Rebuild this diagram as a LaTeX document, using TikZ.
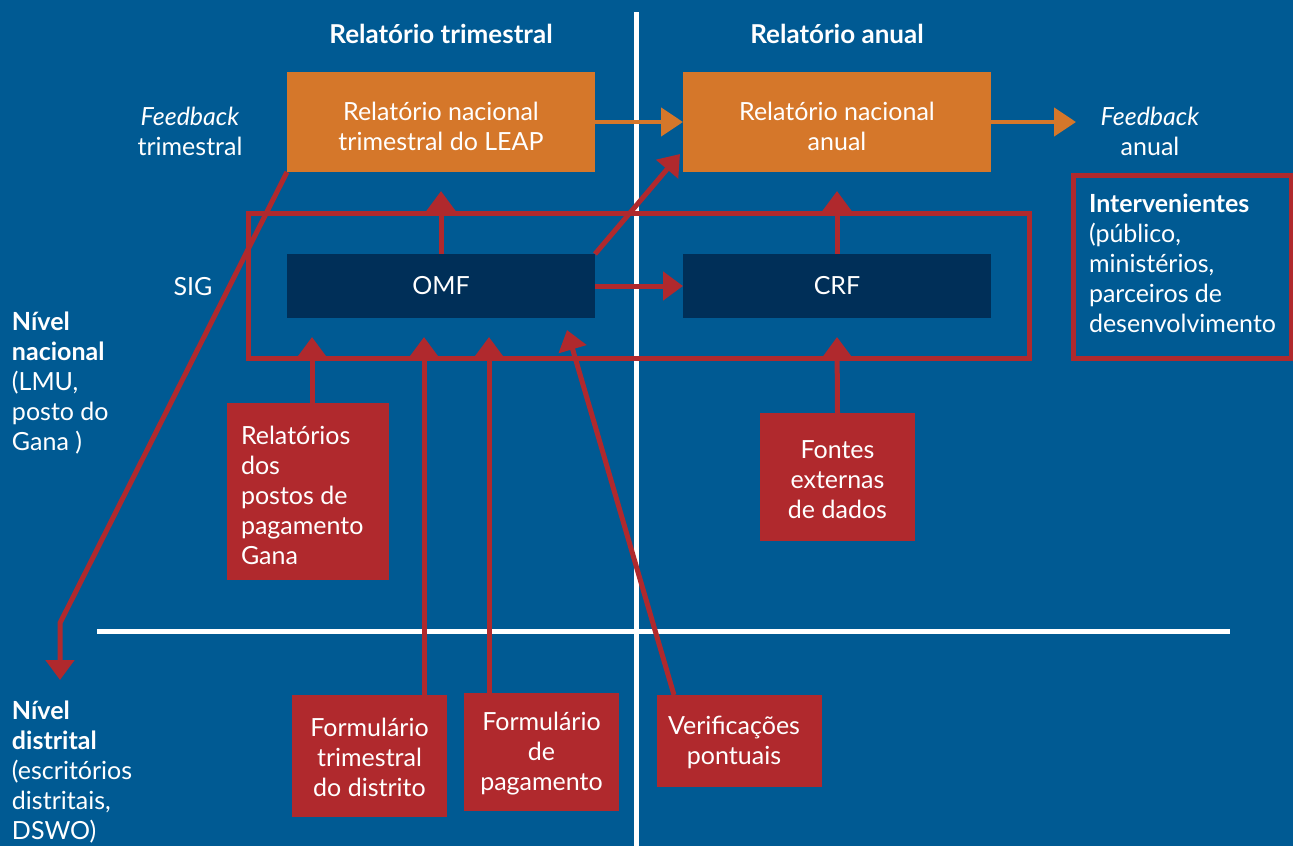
\documentclass[tikz,border=0pt]{standalone}
\usepackage{fontspec}
\setmainfont{Lato}
\usetikzlibrary{arrows.meta}
\definecolor{bg}{HTML}{005A93}
\definecolor{orangebox}{HTML}{D5772A}
\definecolor{navybox}{HTML}{002F58}
\definecolor{redbox}{HTML}{B0292D}
\tikzset{
  txt/.style={text=white, inner sep=0pt, outer sep=0pt},
  hdr/.style={txt, font=\fontsize{26}{30}\selectfont\bfseries},
  obox/.style={fill=orangebox, text=white, inner sep=0pt, outer sep=0pt, align=center},
  nbox/.style={fill=navybox, text=white, inner sep=0pt, outer sep=0pt, align=center},
  rbox/.style={fill=redbox, text=white, inner sep=0pt, outer sep=0pt},
  frame/.style={draw=redbox, line width=5pt, inner sep=0pt, outer sep=0pt},
  redarrow/.style={draw=redbox, line width=5pt, -{Triangle[width=28pt,length=20pt]}},
  orangearrow/.style={draw=orangebox, line width=4.5pt, -{Triangle[width=28pt,length=22pt]}},
  divider/.style={draw=white, line width=5pt}
}
\begin{document}
\begin{tikzpicture}[x=1pt, y=-1pt, font=\fontsize{25}{30}\selectfont]
\fill[bg] (0,0) rectangle (1293,846);
\useasboundingbox (0,0) rectangle (1293,846);

% dividers between the time frames and the levels
\coordinate (vtop) at (636,12);
\coordinate (vbot) at (636,846);
\coordinate (hl) at (97,631);
\coordinate (hr) at (1230,631);
\draw[divider] (vtop) -- (vbot);
\draw[divider] (hl) -- (hr);

% column headers
\node[hdr] (h1) at (441,34) {Relatório trimestral};
\node[hdr] (h2) at (837,34) {Relatório anual};

% reports
\node[obox, minimum width=308pt, minimum height=100pt] (rtri) at (441,122) {};
\node[txt, align=center] (rtritext) at (441,126) {Relatório nacional\\trimestral do LEAP};
\node[obox, minimum width=308pt, minimum height=100pt] (rann) at (837,122) {};
\node[txt, align=center] (ranntext) at (837,126) {Relatório nacional\\anual};

% feedback labels
\node[txt, align=center] (fbt) at (190,131) {\textit{Feedback}\\trimestral};
\node[txt, align=center] (fba) at (1150,131) {\textit{Feedback}\\anual};

% management information system
\node[frame, minimum width=781pt, minimum height=145pt] (sig) at (638.5,285.5) {};
\node[txt] (siglabel) at (193,287) {SIG};
\node[nbox, minimum width=308pt, minimum height=64pt] (omf) at (441,286) {OMF};
\node[nbox, minimum width=308pt, minimum height=64pt] (crf) at (837,286) {CRF};

% stakeholders
\node[frame, minimum width=218pt, minimum height=183pt] (stake) at (1182,266.5) {};
\node[txt, anchor=north west, align=left] (staketext) at (1089,194)
  {\textbf{Intervenientes}\\(público,\\ministérios,\\parceiros de\\desenvolvimento};

% level labels
\node[txt, anchor=north west, align=left] (natl) at (12,312)
  {\textbf{Nível}\\\textbf{nacional}\\(LMU,\\posto do\\Gana )};
\node[txt, anchor=north west, align=left] (dist) at (12,701)
  {\textbf{Nível}\\\textbf{distrital}\\(escritórios\\distritais,\\DSWO)};

% data sources
\node[rbox, minimum width=162pt, minimum height=177pt] (relp) at (308,491.5) {};
\node[txt, anchor=north west, align=left] (relptext) at (241,426)
  {Relatórios\\dos\\postos de\\pagamento\\Gana};
\node[rbox, minimum width=155pt, minimum height=128pt] (fontes) at (837.5,477) {};
\node[txt, align=center] (fontestext) at (837.5,480) {Fontes\\externas\\de dados};
\node[rbox, minimum width=155pt, minimum height=122pt] (formtri) at (369.5,756) {};
\node[txt, align=center] (formtritext) at (369.5,757) {Formulário\\trimestral\\do distrito};
\node[rbox, minimum width=155pt, minimum height=118pt] (formpag) at (541.5,752) {};
\node[txt, align=center] (formpagtext) at (541.5,754) {Formulário\\de\\pagamento};
\node[rbox, minimum width=165pt, minimum height=92pt] (verif) at (739.5,741) {};
\node[txt, align=center] (veriftext) at (734,742) {Verificações\\pontuais};

% flows between reports
\coordinate (fbtip) at (1076,122);
\draw[orangearrow] (rtri.east) -- (rann.west);
\draw[orangearrow] (rann.east) -- (fbtip);

% flows from the system into the reports
\coordinate (omfup) at (441,191);
\coordinate (crfup) at (837,191);
\coordinate (omfdiag) at (680,154);
\draw[redarrow] (omf.north) -- (omfup);
\draw[redarrow] (crf.north) -- (crfup);
\draw[redarrow] (omf.east) -- (crf.west);
\draw[redarrow] (omf.north east) -- (omfdiag);

% feedback down to the districts
\coordinate (bend) at (60,623);
\coordinate (downtip) at (60,680);
\draw[redarrow] (rtri.south west) -- (bend) -- (downtip);

% inputs into the system
\coordinate (in1) at (312,337);
\coordinate (in2) at (424,337);
\coordinate (in3) at (489,337);
\coordinate (in4) at (567,330);
\coordinate (in5) at (837,337);
\coordinate (verifstart) at (674,695);
\draw[redarrow] (relp.north -| in1) -- (in1);
\draw[redarrow] (formtri.north -| in2) -- (in2);
\draw[redarrow] (formpag.north -| in3) -- (in3);
\draw[redarrow] (verifstart) -- (in4);
\draw[redarrow] (fontes.north) -- (in5);
\end{tikzpicture}
\end{document}
